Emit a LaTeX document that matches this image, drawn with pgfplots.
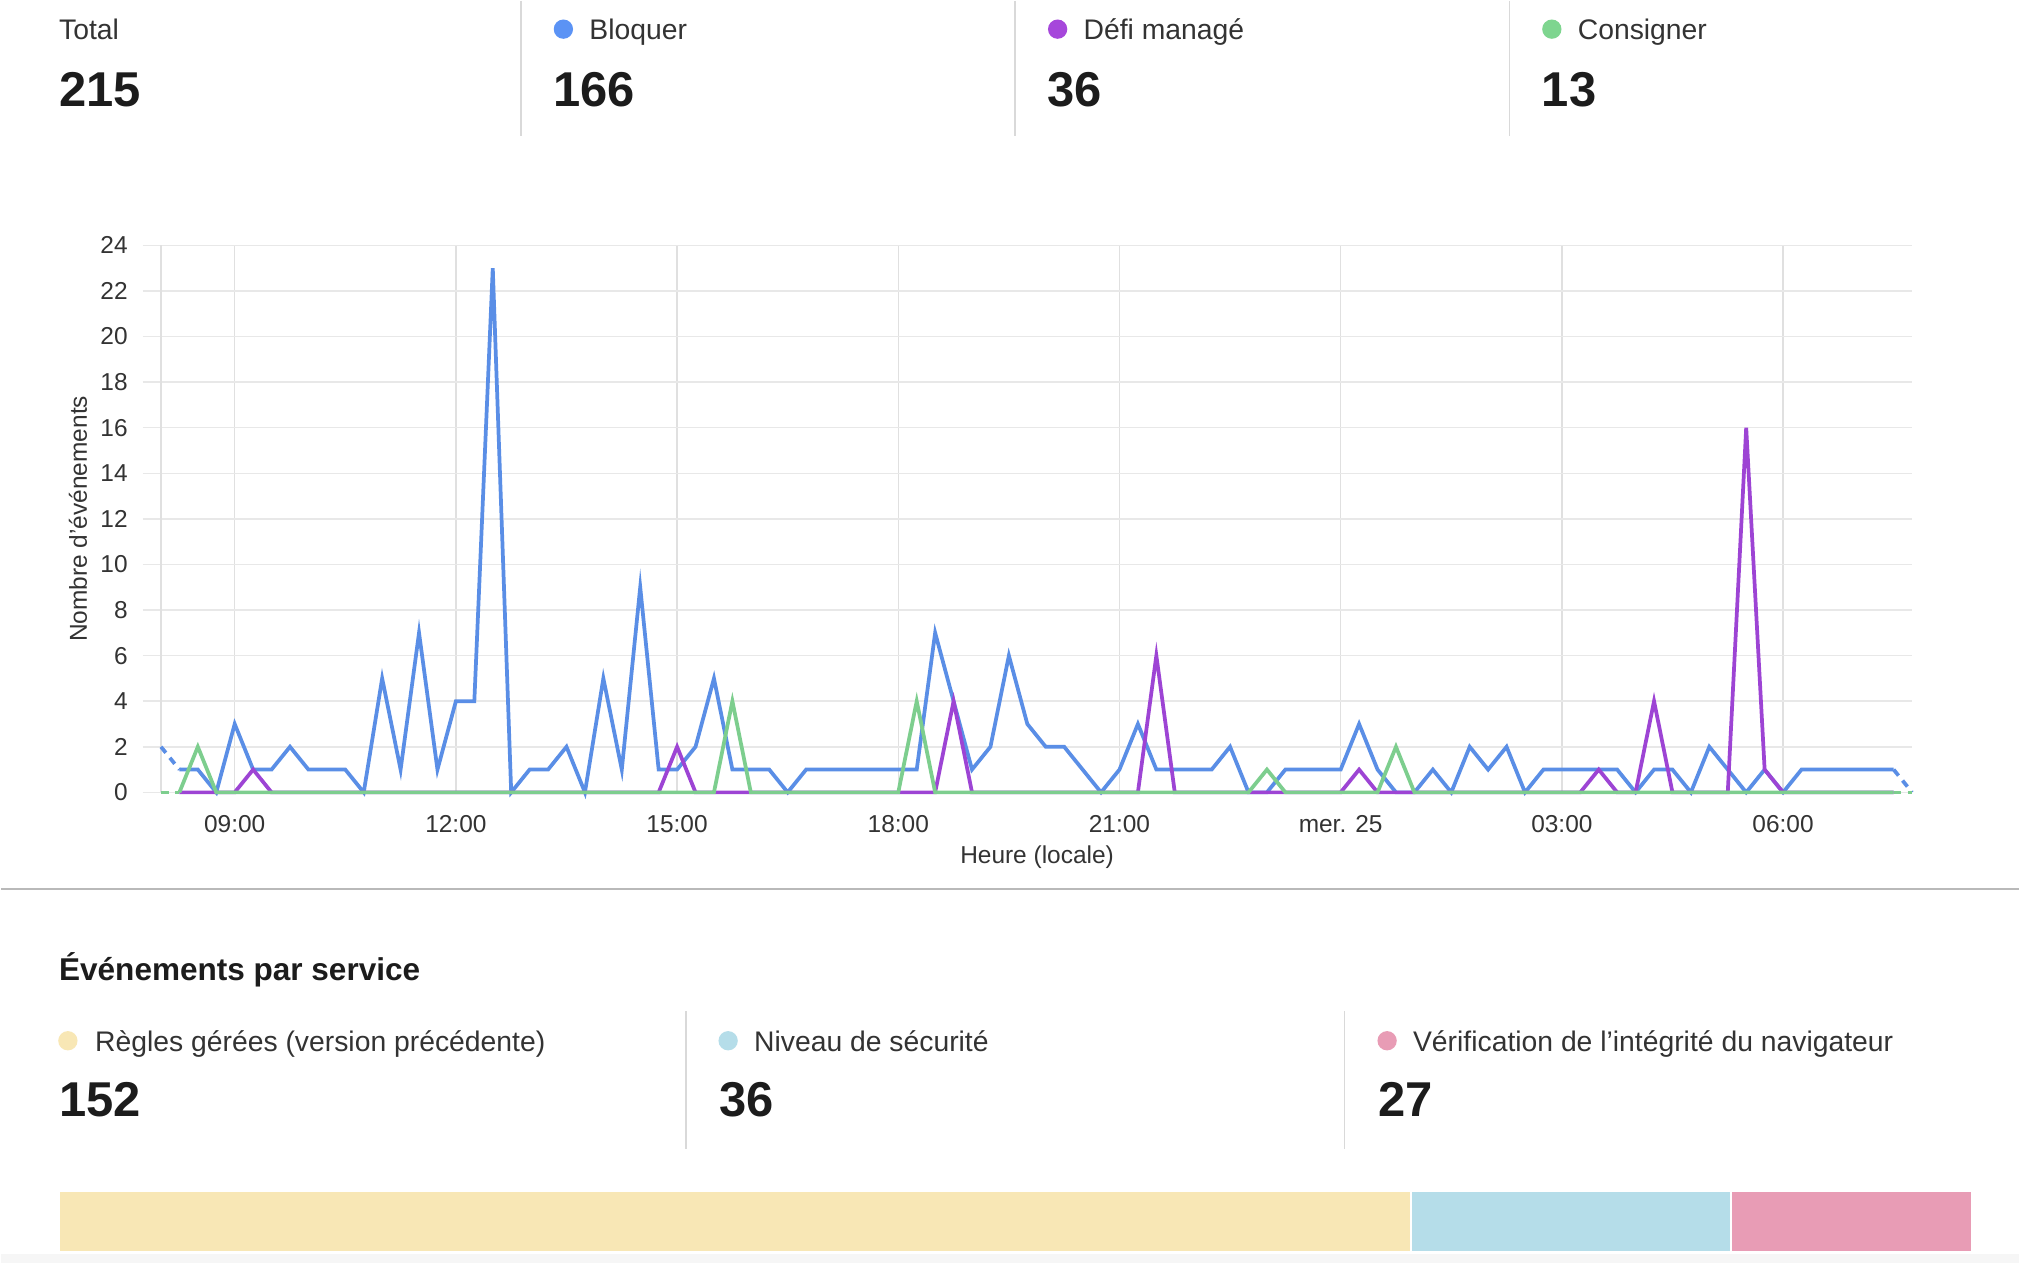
\documentclass[border=0pt]{standalone}
\usepackage{fontspec}
\setmainfont{Liberation Sans}
\usepackage{pgfplots}
\usepackage{pgfplotstable}
\pgfplotsset{compat=1.18}
\definecolor{cblue}{HTML}{5A8EE6}
\definecolor{cpurple}{HTML}{9D44D4}
\definecolor{cgreen}{HTML}{7DCE8E}
\definecolor{dblue}{HTML}{5B93F5}
\definecolor{dpurple}{HTML}{A647DB}
\definecolor{dgreen}{HTML}{7ED58F}
\definecolor{barY}{HTML}{F8E7B5}
\definecolor{barB}{HTML}{B5DDE9}
\definecolor{barP}{HTML}{E89CB5}
\definecolor{hgrid}{HTML}{E8E8E8}
\definecolor{vgrid}{HTML}{E0E0E0}
\definecolor{sep}{HTML}{D9D9D9}
\definecolor{txt}{HTML}{333333}
\definecolor{num}{HTML}{1C1C1C}

\pgfplotstableread{
idx blue purple green
1 1 0 0
2 1 0 2
3 0 0 0
4 3 0 0
5 1 1 0
6 1 0 0
7 2 0 0
8 1 0 0
9 1 0 0
10 1 0 0
11 0 0 0
12 5 0 0
13 1 0 0
14 7 0 0
15 1 0 0
16 4 0 0
17 4 0 0
18 23 0 0
19 0 0 0
20 1 0 0
21 1 0 0
22 2 0 0
23 0 0 0
24 5 0 0
25 1 0 0
26 9 0 0
27 1 0 0
28 1 2 0
29 2 0 0
30 5 0 0
31 1 0 4
32 1 0 0
33 1 0 0
34 0 0 0
35 1 0 0
36 1 0 0
37 1 0 0
38 1 0 0
39 1 0 0
40 1 0 0
41 1 0 4
42 7 0 0
43 4 4 0
44 1 0 0
45 2 0 0
46 6 0 0
47 3 0 0
48 2 0 0
49 2 0 0
50 1 0 0
51 0 0 0
52 1 0 0
53 3 0 0
54 1 6 0
55 1 0 0
56 1 0 0
57 1 0 0
58 2 0 0
59 0 0 0
60 0 0 1
61 1 0 0
62 1 0 0
63 1 0 0
64 1 0 0
65 3 1 0
66 1 0 0
67 0 0 2
68 0 0 0
69 1 0 0
70 0 0 0
71 2 0 0
72 1 0 0
73 2 0 0
74 0 0 0
75 1 0 0
76 1 0 0
77 1 0 0
78 1 1 0
79 1 0 0
80 0 0 0
81 1 4 0
82 1 0 0
83 0 0 0
84 2 0 0
85 1 0 0
86 0 16 0
87 1 1 0
88 0 0 0
89 1 0 0
90 1 0 0
91 1 0 0
92 1 0 0
93 1 0 0
94 1 0 0
}\events

\newcommand{\lab}{\fontsize{22}{26}\selectfont\color{txt}}
\newcommand{\bignum}{\fontsize{38}{44}\selectfont\bfseries\color{num}}

\begin{document}
\begin{tikzpicture}[x=1pt,y=1pt]
\fill[white] (0,0) rectangle (1568,-981);
\fill[gray!7] (0,-974) rectangle (1568,-981);

% header
\draw[sep, line width=1.3pt] (404,0) -- (404,-105);
\draw[sep, line width=1.3pt] (788,0) -- (788,-105);
\draw[sep, line width=1.3pt] (1172,0) -- (1172,-105);
\node[anchor=base west, inner sep=0] at (45,-30) {\lab Total};
\node[anchor=base west, inner sep=0] at (45,-82) {\bignum 215};
\fill[dblue] (437,-22) circle (7.5);
\node[anchor=base west, inner sep=0] at (457,-30) {\lab Bloquer};
\node[anchor=base west, inner sep=0] at (429,-82) {\bignum 166};
\fill[dpurple] (821,-22) circle (7.5);
\node[anchor=base west, inner sep=0] at (841,-30) {\lab Défi managé};
\node[anchor=base west, inner sep=0] at (813,-82) {\bignum 36};
\fill[dgreen] (1205,-22) circle (7.5);
\node[anchor=base west, inner sep=0] at (1225,-30) {\lab Consigner};
\node[anchor=base west, inner sep=0] at (1197,-82) {\bignum 13};

\begin{axis}[
  at={(110pt,-615pt)}, anchor=south west,
  scale only axis, width=1375pt, height=425pt,
  xmin=-1, xmax=95, ymin=0, ymax=24,
  ytick={0,2,...,24},
  xtick={4,16,28,40,52,64,76,88},
  xticklabels={09:00,12:00,15:00,18:00,21:00,mer. 25,03:00,06:00},
  extra x ticks={0}, extra x tick labels={},
  extra x tick style={grid=major},
  grid=major,
  x grid style={line width=1.2pt, color=vgrid},
  y grid style={line width=1.2pt, color=hgrid},
  axis line style={draw=none},
  tick style={draw=none},
  /pgf/number format/assume math mode=true,
  ticklabel style={font=\fontsize{19}{22}\selectfont, text=txt},
  xticklabel style={yshift=-14pt},
  yticklabel style={xshift=-8pt},
  xlabel={Heure (locale)},
  ylabel={Nombre d'événements},
  label style={font=\fontsize{19}{22}\selectfont, text=txt},
  xlabel style={at={(axis description cs:0.5055,0)}, anchor=center, yshift=-50pt},
  ylabel style={at={(axis description cs:-0.0364,0.5)}, anchor=center, rotate=0},
  clip=false,
]
\addplot[cblue, line width=2.9pt, dash pattern=on 6pt off 5pt] coordinates {(0,2) (1,1)};
\addplot[cblue, line width=2.9pt, dash pattern=on 6pt off 5pt] coordinates {(94,1) (95,0)};
\addplot[cblue, line width=2.9pt] table[x=idx, y=blue] {\events};
\addplot[cpurple, line width=2.9pt] table[x=idx, y=purple] {\events};
\addplot[cgreen, line width=2.9pt, dash pattern=on 6pt off 5pt] coordinates {(0,0) (1,0)};
\addplot[cgreen, line width=2.9pt, dash pattern=on 6pt off 5pt] coordinates {(94,0) (95,0)};
\addplot[cgreen, line width=2.9pt] table[x=idx, y=green] {\events};
\end{axis}

\draw[gray!55, line width=1.5pt] (0,-690) -- (1568,-690);

% services
\node[anchor=base west, inner sep=0] at (45,-761) {\fontsize{24.5}{28}\selectfont\bfseries\color{num}Événements par service};
\draw[sep, line width=1.3pt] (532,-785) -- (532,-892);
\draw[sep, line width=1.3pt] (1044,-785) -- (1044,-892);
\fill[barY] (52,-808) circle (7.5);
\node[anchor=base west, inner sep=0] at (73,-816) {\lab Règles gérées (version précédente)};
\node[anchor=base west, inner sep=0] at (45,-867) {\bignum 152};
\fill[barB] (565,-808) circle (7.5);
\node[anchor=base west, inner sep=0] at (585,-816) {\lab Niveau de sécurité};
\node[anchor=base west, inner sep=0] at (558,-867) {\bignum 36};
\fill[barP] (1077,-808) circle (7.5);
\node[anchor=base west, inner sep=0] at (1097,-816) {\lab Vérification de l’intégrité du navigateur};
\node[anchor=base west, inner sep=0] at (1070,-867) {\bignum 27};

\begin{axis}[
  at={(45pt,-972pt)}, anchor=south west,
  scale only axis, width=1486pt, height=47pt,
  xbar stacked, bar width=47pt,
  xmin=0, xmax=215, ymin=-0.5, ymax=0.5,
  hide axis,
]
\addplot[fill=barY, draw=white, line width=1.2pt] coordinates {(152,0)};
\addplot[fill=barB, draw=white, line width=1.2pt] coordinates {(36,0)};
\addplot[fill=barP, draw=white, line width=1.2pt] coordinates {(27,0)};
\end{axis}
\end{tikzpicture}
\end{document}
